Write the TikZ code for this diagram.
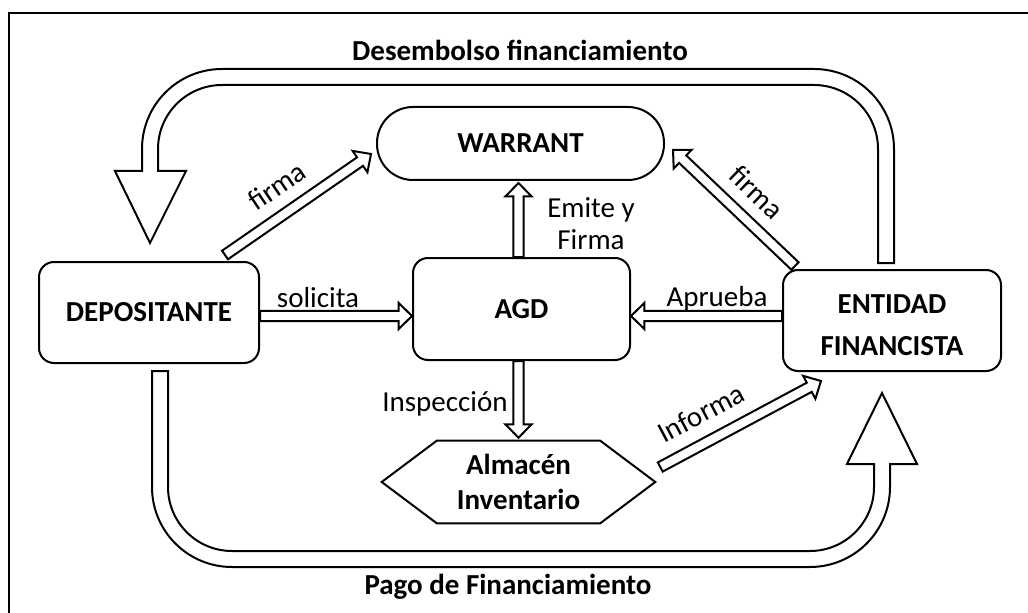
\documentclass[tikz,border=0pt]{standalone}
\usepackage{fontspec}
\setmainfont{Carlito}
\usetikzlibrary{calc}
\def\bsw{3.9pt}
\def\bhw{9.75pt}
\def\bhl{10pt}
\tikzset{
  txt/.style={font=\fontsize{21.75}{26}\selectfont, inner sep=0pt},
  btxt/.style={txt, font=\fontsize{21.75}{26}\selectfont\bfseries},
  box/.style={draw, line width=1.5pt, rounded corners=11.25pt, inner sep=0pt, align=center,
    font=\fontsize{21.75}{31.5}\selectfont\bfseries},
  outl/.style={draw, fill=white, line width=1.5pt, line join=miter},
  barrow/.style={outl, to path={
    coordinate (bS) at (\tikztostart) coordinate (bE) at (\tikztotarget)
    coordinate (bH) at ($(bE)!\bhl!(bS)$)
    ($(bS)!\bsw!90:(bE)$) -- ($(bH)!\bsw!90:(bE)$) -- ($(bH)!\bhw!90:(bE)$) -- (bE)
    -- ($(bH)!\bhw!-90:(bE)$) -- ($(bH)!\bsw!-90:(bE)$) -- ($(bS)!\bsw!-90:(bE)$) -- cycle}}
}
\begin{document}
\begin{tikzpicture}[x=0.75pt,y=-0.75pt]
\useasboundingbox (0,0) rectangle (1028,613);
% frame
\draw[line width=1.5pt] (9,613) -- (9,13) -- (1028,13);

% nodes
\node[box, minimum width=165pt, minimum height=75.75pt] (dep) at (149,312.5) {DEPOSITANTE};
\node[box, minimum width=162.75pt, minimum height=76.5pt] (agd) at (521.5,309) {AGD};
\node[box, rounded corners=27pt, minimum width=215.25pt, minimum height=54.75pt] (war) at (520.5,143.5) {WARRANT};
\node[box, minimum width=163.5pt, minimum height=75.75pt] (ent) at (892,320.5) {};
\node[inner sep=0pt, align=center, font=\fontsize{21.75}{31.5}\selectfont\bfseries] (entt) at (892,325.5) {ENTIDAD\\FINANCISTA};
\node[inner sep=0pt, minimum width=204.75pt, minimum height=61.5pt, align=center,
  font=\fontsize{21.75}{26.25}\selectfont\bfseries] (alm) at (518.5,482) {Almac\'en\\Inventario};
\draw[line width=1.5pt] (alm.west) -- ([xshift=41.25pt]alm.north west) -- ([xshift=-41.25pt]alm.north east)
  -- (alm.east) -- ([xshift=-41.25pt]alm.south east) -- ([xshift=41.25pt]alm.south west) -- cycle;

% big loop arrows
\draw[outl] (894,263) -- (894,149) .. controls (894,104.8) and (858.2,69) .. (814,69) -- (222,69)
  .. controls (177.8,69) and (142,104.8) .. (142,149) -- (142,171) -- (115,171) -- (150,243)
  -- (186,171) -- (158,171) -- (158,149) .. controls (158,113.7) and (186.7,85) .. (222,85)
  -- (814,85) .. controls (849.3,85) and (878,113.7) .. (878,149) -- (878,263) -- cycle;
\draw[outl] (152,371) -- (152,487) .. controls (152,531.2) and (187.8,567) .. (232,567) -- (810,567)
  .. controls (854.2,567) and (890,531.2) .. (890,487) -- (890,464) -- (917,464) -- (882,393)
  -- (847,464) -- (874,464) -- (874,487) .. controls (874,522.3) and (845.3,551) .. (810,551)
  -- (232,551) .. controls (196.7,551) and (168,522.3) .. (168,487) -- (168,371) -- cycle;

% connector end points
\coordinate (row) at (0,316);
\coordinate (f1s) at ($(dep.north east)+(-35,-6)$);
\coordinate (f1e) at ($(war.west)+(-5,10.5)$);
\coordinate (f2s) at ($(ent.north west)+(13,-3)$);
\coordinate (f2e) at ($(war.east)+(8,6.5)$);
\coordinate (ins) at ($(alm.east)+(5,-15)$);
\coordinate (ine) at ($(ent.south west)+(39,9)$);
\coordinate (ax) at (518.5,0);

% block arrows
\draw[barrow] (dep.east |- row) to (agd.west |- row);
\draw[barrow] (ent.west |- row) to (agd.east |- row);
\draw[barrow] (agd.north -| ax) to ([yshift=-1.5pt]war.south -| ax);
\draw[barrow] (agd.south -| ax) to ([yshift=2.25pt]alm.north -| ax);
\draw[barrow] (f1s) to (f1e);
\draw[barrow] (f2s) to (f2e);
\draw[barrow] (ins) to (ine);

% labels
\node[btxt] (t1) at (520,50) {Desembolso financiamiento};
\node[btxt] (t2) at (508,587) {Pago de Financiamiento};
\node[txt] (l1) at (318,298) {solicita};
\node[txt] (l2) at (717,299) {Aprueba};
\node[txt, align=center, font=\fontsize{21.75}{24}\selectfont] (l3) at (591,224) {Emite y\\Firma};
\node[txt] (l4) at (445,404) {Inspecci\'on};
\node[txt, rotate=34] (l5) at (277,186) {firma};
\node[txt, rotate=-44] (l6) at (757,192) {firma};
\node[txt, rotate=28] (l7) at (701,413) {Informa};
\end{tikzpicture}
\end{document}
